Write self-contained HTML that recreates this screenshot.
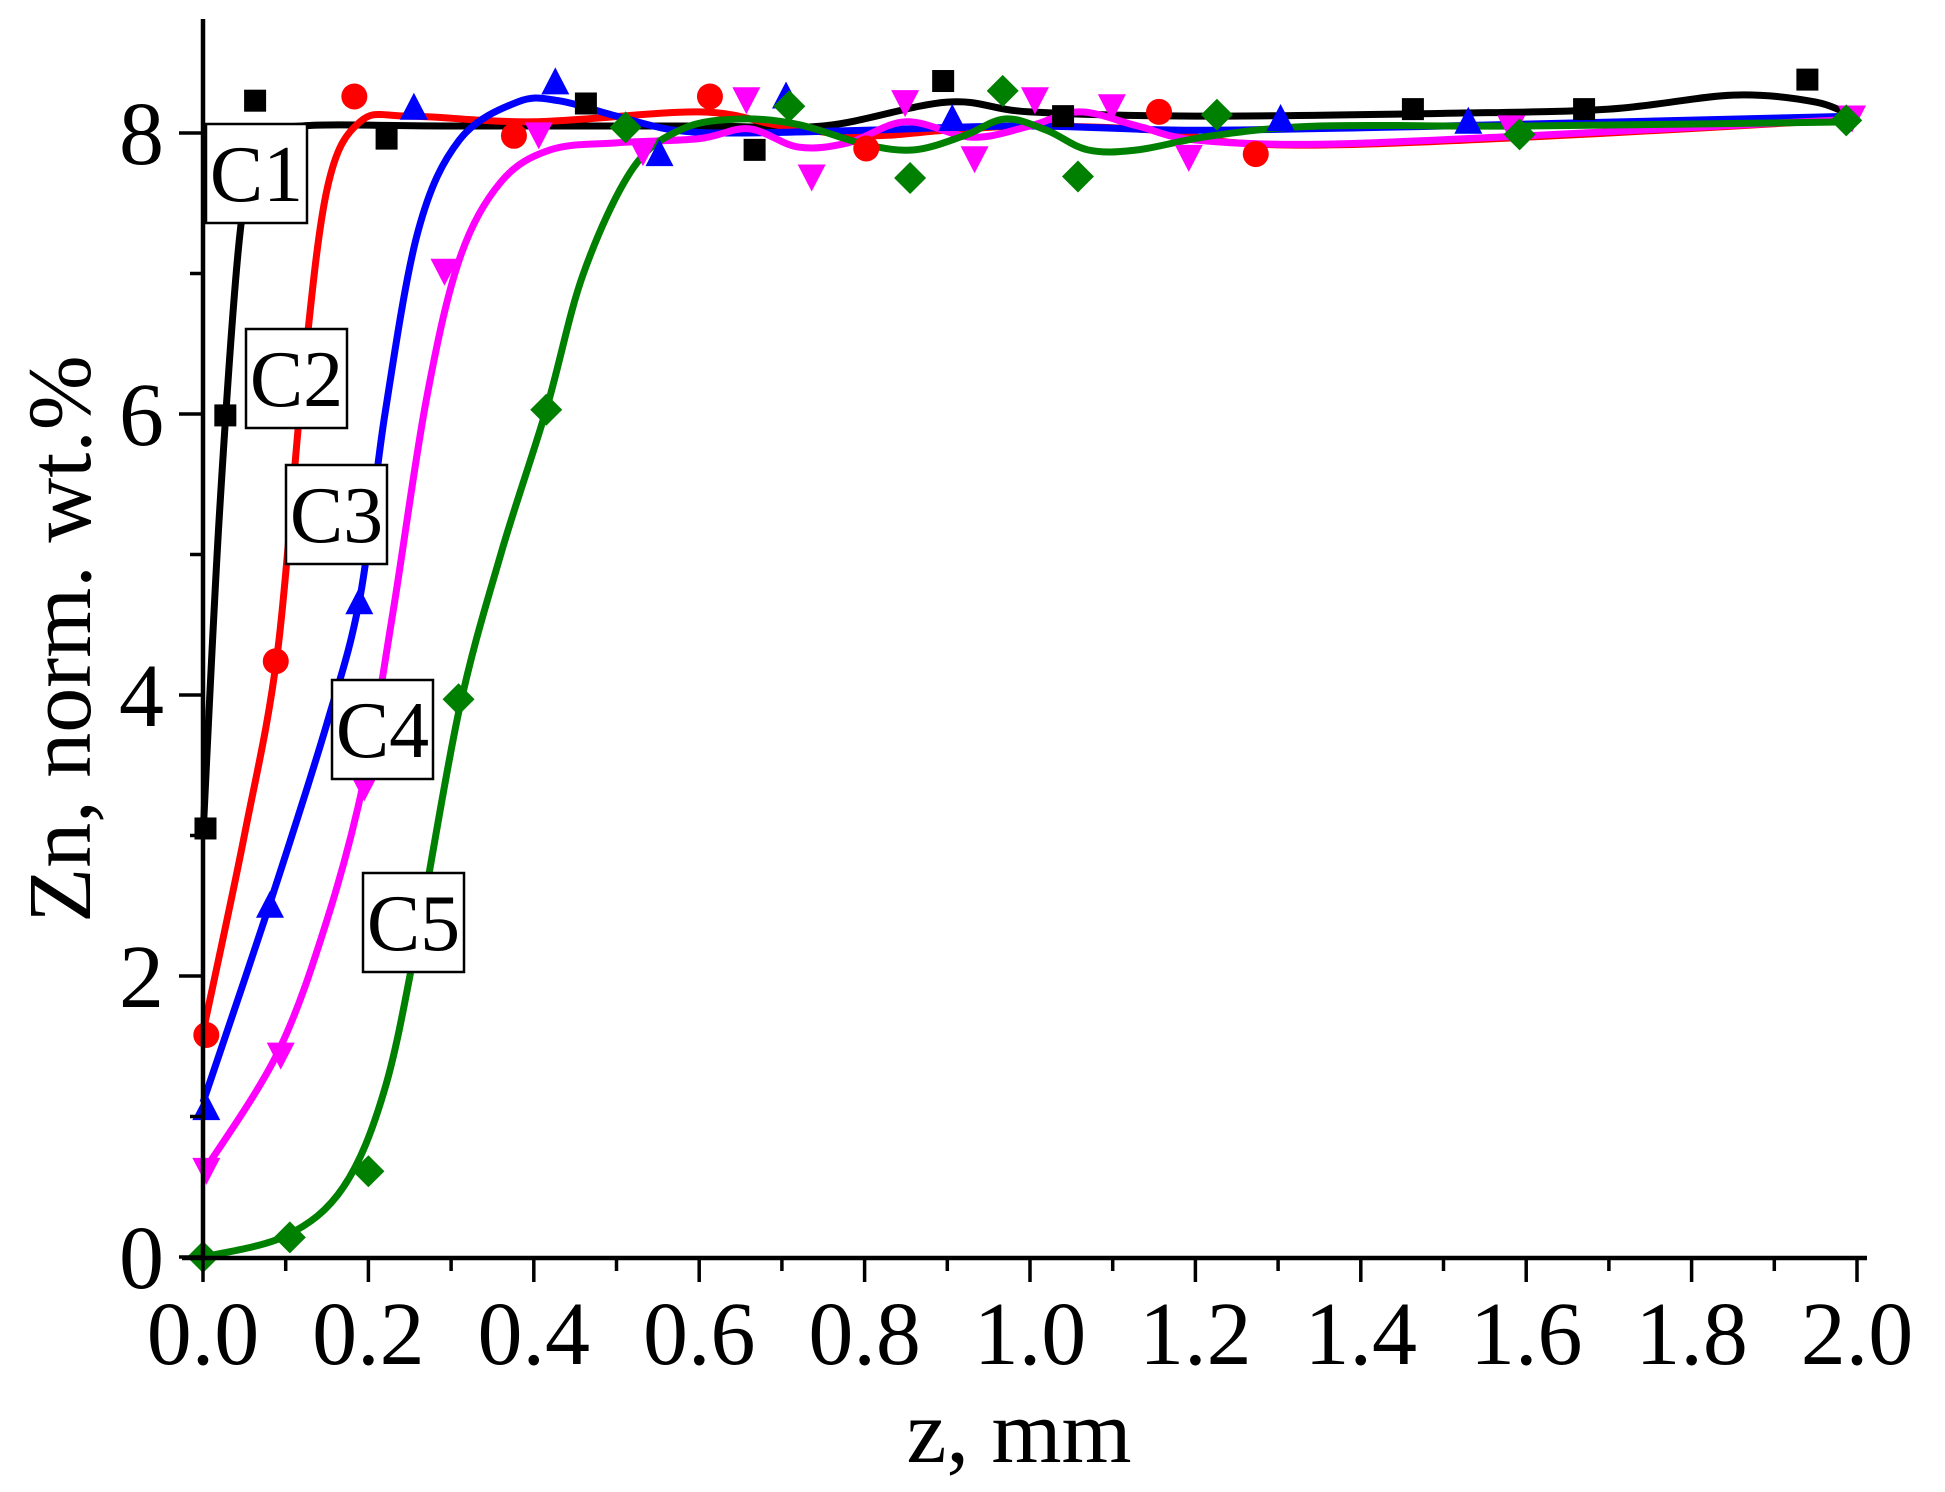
<!DOCTYPE html>
<html><head><meta charset="utf-8"><style>
html,body{margin:0;padding:0;background:#fff;}
svg{display:block;}
text{font-family:"Liberation Serif","Times New Roman",Times,serif;fill:#000;}
</style></head><body>
<svg id="s" width="1945" height="1492" xmlns="http://www.w3.org/2000/svg" font-family="Liberation Serif, Times New Roman, serif"></svg>
<script>
const S=document.getElementById('s');
const X=x=>203+827*x, Y=y=>1257-140.5*y;
let h='';
function cr(pts){
  const p=pts.map(q=>[X(q[0]),Y(q[1])]);
  let d='M'+p[0][0]+','+p[0][1];
  for(let i=0;i<p.length-1;i++){
    const p0=p[i-1]||p[i],p1=p[i],p2=p[i+1],p3=p[i+2]||p[i+1];
    const c1=[p1[0]+(p2[0]-p0[0])/6,p1[1]+(p2[1]-p0[1])/6];
    const c2=[p2[0]-(p3[0]-p1[0])/6,p2[1]-(p3[1]-p1[1])/6];
    d+=' C'+c1+' '+c2+' '+p2;
  }
  return d;
}
const curves={
 '#000':[[0,3.0],[0.02,5.3],[0.045,7.3],[0.07,7.95],[0.12,8.05],[0.3,8.05],[0.6,8.05],[0.75,8.05],[0.9,8.22],[1.0,8.15],[1.2,8.12],[1.5,8.14],[1.7,8.17],[1.85,8.27],[1.95,8.22],[2.0,8.1]],
 '#ff0000':[[0,1.6],[0.05,3.0],[0.09,4.3],[0.12,6.2],[0.15,7.6],[0.19,8.08],[0.25,8.12],[0.4,8.08],[0.6,8.15],[0.7,8.05],[0.8,7.98],[0.9,8.02],[1.0,8.05],[1.15,8.02],[1.25,7.93],[1.4,7.92],[1.7,8.0],[2.0,8.1]],
 '#0000ff':[[0,1.1],[0.08,2.5],[0.15,3.8],[0.19,4.7],[0.22,6.0],[0.26,7.3],[0.31,7.95],[0.38,8.22],[0.43,8.23],[0.5,8.12],[0.57,8.02],[0.65,8.0],[0.8,8.02],[1.0,8.05],[1.2,8.02],[1.5,8.05],[2.0,8.12]],
 '#ff00ff':[[0,0.6],[0.09,1.45],[0.15,2.4],[0.195,3.4],[0.23,4.6],[0.27,6.1],[0.31,7.1],[0.36,7.65],[0.42,7.88],[0.5,7.93],[0.6,7.96],[0.66,8.03],[0.72,7.9],[0.78,7.93],[0.85,8.08],[0.93,7.97],[1.0,8.05],[1.06,8.15],[1.13,8.05],[1.2,7.95],[1.35,7.92],[1.6,7.98],[2.0,8.1]],
 '#008000':[[0,0],[0.1,0.15],[0.17,0.5],[0.22,1.2],[0.26,2.3],[0.31,3.9],[0.36,5.0],[0.415,6.03],[0.46,7.0],[0.52,7.75],[0.58,8.03],[0.65,8.1],[0.72,8.06],[0.8,7.92],[0.86,7.88],[0.92,7.98],[0.97,8.1],[1.02,8.02],[1.07,7.88],[1.13,7.88],[1.22,7.98],[1.35,8.05],[1.6,8.05],[2.0,8.08]]
};
for(const c in curves) h+=`<path d="${cr(curves[c])}" fill="none" stroke="${c}" stroke-width="7" stroke-linejoin="round"/>`;
const pts={
 sq:[[0.003,3.05],[0.027,5.99],[0.063,8.23],[0.222,7.96],[0.463,8.21],[0.667,7.88],[0.895,8.37],[1.04,8.12],[1.463,8.17],[1.67,8.17],[1.94,8.38]],
 ci:[[0.004,1.58],[0.088,4.24],[0.183,8.26],[0.376,7.98],[0.613,8.26],[0.802,7.89],[1.156,8.15],[1.273,7.85]],
 tu:[[0.004,1.06],[0.081,2.5],[0.189,4.66],[0.255,8.18],[0.426,8.36],[0.552,7.85],[0.705,8.26],[0.906,8.1],[1.303,8.1],[1.53,8.08]],
 td:[[0.004,0.62],[0.094,1.44],[0.195,3.35],[0.292,7.02],[0.406,7.99],[0.532,7.87],[0.657,8.24],[0.736,7.69],[0.849,8.22],[0.933,7.82],[1.006,8.24],[1.099,8.19],[1.192,7.83],[1.582,8.04],[1.994,8.11]],
 di:[[0,0],[0.105,0.14],[0.2,0.61],[0.309,3.97],[0.415,6.03],[0.511,8.04],[0.709,8.19],[0.855,7.68],[0.967,8.3],[1.058,7.69],[1.226,8.13],[1.592,7.99],[1.987,8.09]]
};
pts.sq.forEach(q=>{const x=X(q[0]),y=Y(q[1]);h+=`<rect x="${x-11}" y="${y-11}" width="22" height="22" fill="#000"/>`;});
pts.ci.forEach(q=>{h+=`<circle cx="${X(q[0])}" cy="${Y(q[1])}" r="13" fill="#ff0000"/>`;});
pts.tu.forEach(q=>{const x=X(q[0]),y=Y(q[1]);h+=`<polygon points="${x-14},${y+12} ${x+14},${y+12} ${x},${y-15}" fill="#0000ff"/>`;});
pts.td.forEach(q=>{const x=X(q[0]),y=Y(q[1]);h+=`<polygon points="${x-14},${y-12} ${x+14},${y-12} ${x},${y+15}" fill="#ff00ff"/>`;});
pts.di.forEach(q=>{const x=X(q[0]),y=Y(q[1]);h+=`<polygon points="${x-16},${y} ${x},${y-16} ${x+16},${y} ${x},${y+16}" fill="#008000"/>`;});
[['C1',206,124],['C2',246,329],['C3',286,465],['C4',332,680],['C5',363,873]].forEach(l=>{
 h+=`<rect x="${l[1]}" y="${l[2]}" width="101" height="99" fill="#fff" stroke="#000" stroke-width="2.5"/>`;
 h+=`<text x="${l[1]+50.5}" y="${l[2]+77}" font-size="80" text-anchor="middle">${l[0]}</text>`;
});
h+=`<line x1="203" y1="19" x2="203" y2="1259" stroke="#000" stroke-width="4.5"/>`;
h+=`<line x1="182" y1="1258" x2="1867" y2="1258" stroke="#000" stroke-width="4.5"/>`;
for(let i=0;i<=20;i++){const x=X(i/10);h+=`<line x1="${x}" y1="1258" x2="${x}" y2="${1258+(i%2?13:24)}" stroke="#000" stroke-width="3.5"/>`;
 if(i%2==0)h+=`<text x="${x}" y="1364" font-size="90" text-anchor="middle">${(i/10).toFixed(1)}</text>`;}
for(let i=0;i<=8;i++){const y=Y(i);h+=`<line x1="${203-(i%2?13:24)}" y1="${y}" x2="203" y2="${y}" stroke="#000" stroke-width="3.5"/>`;
 if(i%2==0)h+=`<text x="164" y="${y+31}" font-size="90" text-anchor="end">${i}</text>`;}
h+=`<text x="1019" y="1462" font-size="90" text-anchor="middle">z, mm</text>`;
h+=`<text transform="translate(90,639) rotate(-90)" font-size="90" text-anchor="middle">Zn, norm. wt.%</text>`;
S.innerHTML=h;
</script>
</body></html>
